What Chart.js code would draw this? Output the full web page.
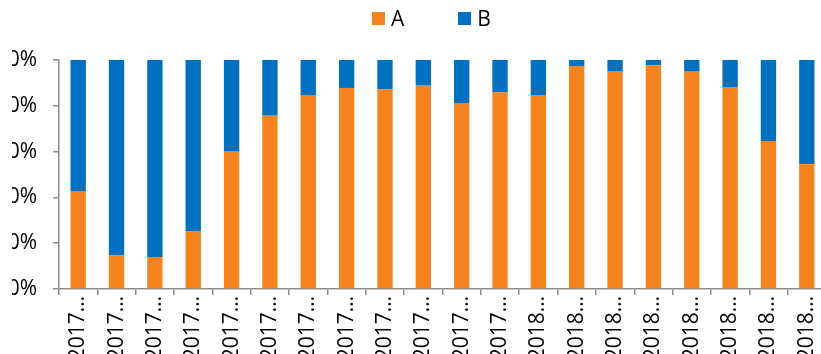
<!DOCTYPE html>
<html>
<head>
<meta charset="utf-8">
<script src="https://cdn.jsdelivr.net/npm/chart.js@4"></script>
<style>
    body { margin: 0; background: #fff; font-family: 'Open Sans', sans-serif; }
    #page { position: relative; width: 821px; height: 354px; overflow: hidden; }
    #clip { position: absolute; left: 12px; top: 0; width: 809px; height: 354px; overflow: hidden; }
    #box { position: absolute; left: -32px; top: 0; width: 860px; height: 400px; }
    #legend { position: absolute; left: 372px; top: 4px; display: flex; align-items: center; font-size: 21px; color: #000; }
    #legend .item { display: flex; align-items: center; }
    #legend .sw { width: 13px; height: 13px; margin-right: 6px; }
</style>
</head>
<body>
<div id="page">
    <div id="clip">
        <div id="box"><canvas id="shareChart"></canvas></div>
    </div>
    <div id="legend"></div>
</div>
<script>
// Catégories (libellés tronqués comme sur l'original)
const categories = [
    '2017…', '2017…', '2017…', '2017…', '2017…', '2017…',
    '2017…', '2017…', '2017…', '2017…', '2017…', '2017…',
    '2018…', '2018…', '2018…', '2018…', '2018…', '2018…', '2018…', '2018…'
];
const seriesA = [42.8, 14.8, 14.0, 25.3, 60.3, 75.7, 84.7, 87.8, 87.2, 89.1, 81.2, 85.9, 84.7, 97.4, 95.2, 97.7, 94.9, 88.2, 64.6, 54.5];
const seriesB = [57.2, 85.2, 86.0, 74.7, 39.7, 24.3, 15.3, 12.2, 12.8, 10.9, 18.8, 14.1, 15.3, 2.6, 4.8, 2.3, 5.1, 11.8, 35.4, 45.5];
const yTicks = [0, 20, 40, 60, 80, 100];

const axisColor = '#8c8c8c';
const tickFont = { family: "'Open Sans', sans-serif", size: 21 };

const ctx = document.getElementById('shareChart').getContext('2d');
const shareChart = new Chart(ctx, {
    type: 'bar',
    data: {
        labels: categories,
        datasets: [{
            label: 'A',
            data: seriesA,
            backgroundColor: '#F5841F',
            borderWidth: 0
        }, {
            label: 'B',
            data: seriesB,
            backgroundColor: '#0070C0',
            borderWidth: 0
        }]
    },
    options: {
        responsive: true,
        maintainAspectRatio: false,
        animation: false,
        layout: {
            padding: { top: 60, right: 14, bottom: 0, left: 0 }
        },
        datasets: {
            bar: {
                categoryPercentage: 1,
                barPercentage: 0.4
            }
        },
        plugins: {
            legend: { display: false },
            tooltip: { enabled: false }
        },
        scales: {
            x: {
                stacked: true,
                afterFit: function(scale) { scale.height = 111; },
                grid: {
                    display: true,
                    offset: true,
                    drawOnChartArea: false,
                    drawTicks: true,
                    tickLength: 6,
                    color: axisColor,
                    lineWidth: 1.5
                },
                border: { display: true, color: axisColor, width: 1.5 },
                ticks: {
                    color: '#000',
                    font: tickFont,
                    minRotation: 90,
                    maxRotation: 90,
                    autoSkip: false,
                    padding: 1
                }
            },
            y: {
                stacked: true,
                min: 0,
                max: 100,
                afterFit: function(scale) { scale.width = 79; },
                afterBuildTicks: function(scale) {
                    scale.ticks = yTicks.map(v => ({ value: v }));
                },
                grid: {
                    display: true,
                    drawOnChartArea: false,
                    drawTicks: true,
                    tickLength: 6,
                    color: axisColor,
                    lineWidth: 1.5
                },
                border: { display: true, color: axisColor, width: 1.5 },
                ticks: {
                    color: '#000',
                    font: tickFont,
                    padding: 16,
                    callback: function(value) {
                        return value + '%';
                    }
                }
            }
        }
    }
});

// Légende HTML construite à partir des séries
const legendEl = document.getElementById('legend');
shareChart.data.datasets.forEach(function(ds, i) {
    const item = document.createElement('div');
    item.className = 'item';
    if (i < shareChart.data.datasets.length - 1) item.style.marginRight = '54px';
    const sw = document.createElement('span');
    sw.className = 'sw';
    sw.style.background = ds.backgroundColor;
    const txt = document.createElement('span');
    txt.textContent = ds.label;
    item.appendChild(sw);
    item.appendChild(txt);
    legendEl.appendChild(item);
});
</script>
</body>
</html>
